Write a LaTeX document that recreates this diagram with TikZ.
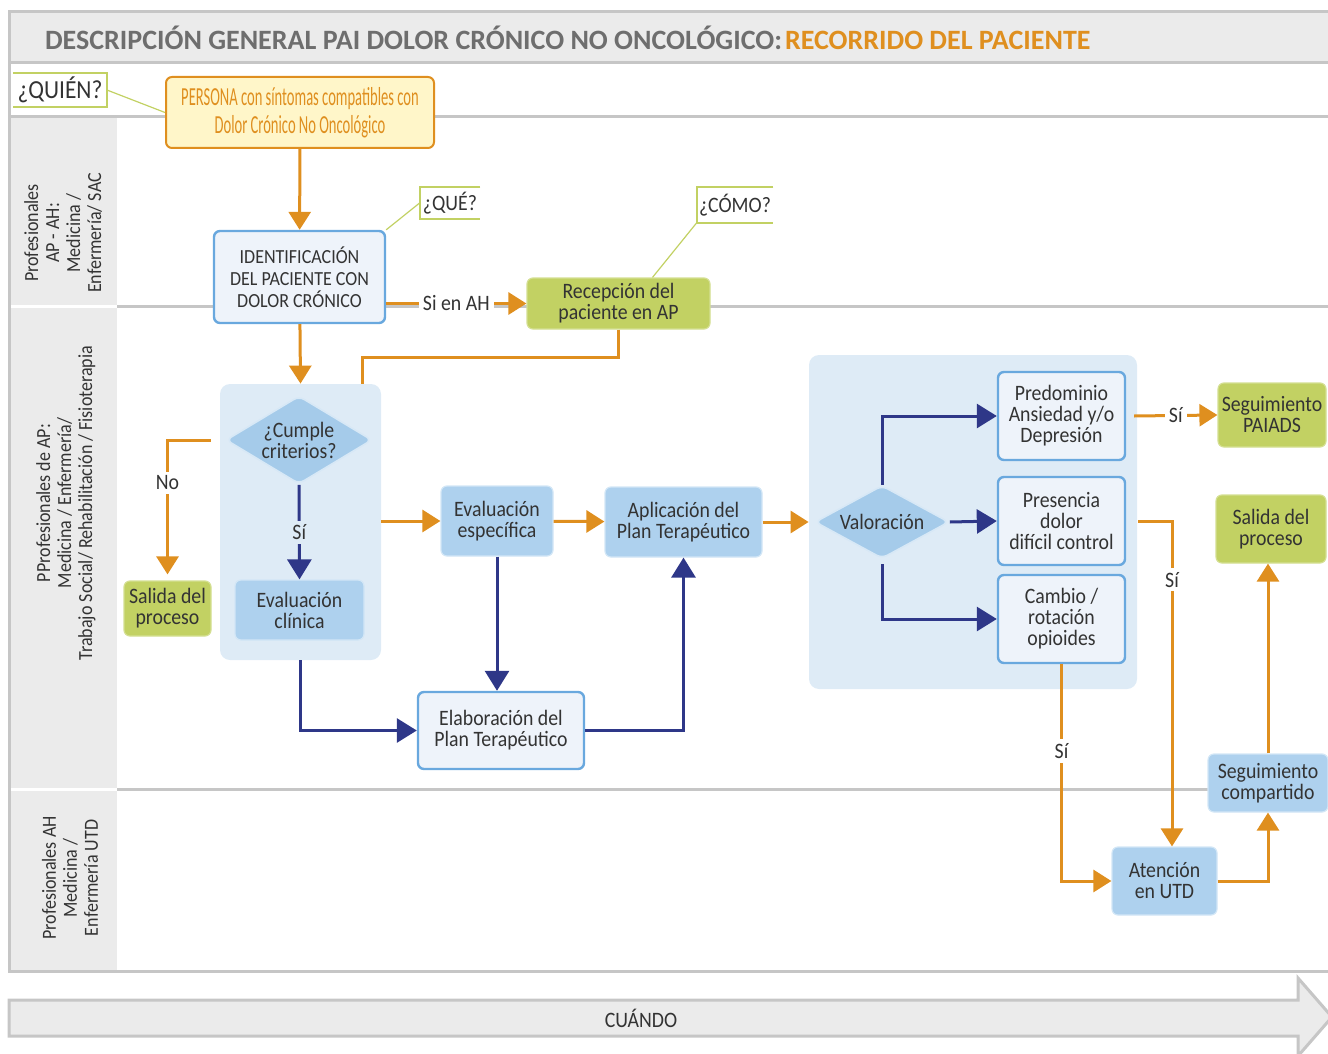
\documentclass[tikz,border=0pt]{standalone}
\usepackage{fontspec}
\setmainfont{Carlito}
\newfontfamily\boxfont{Carlito}[FakeStretch=0.9]
\newfontfamily\condfont{Carlito}[FakeStretch=0.56]
\usetikzlibrary{shapes.geometric,arrows.meta,calc}
\definecolor{amber}{HTML}{DF8F1F}
\definecolor{navy}{HTML}{2E3788}
\definecolor{leaf}{HTML}{C2D163}
\definecolor{panelblue}{HTML}{DEEBF6}
\definecolor{softblue}{HTML}{AED1EE}
\definecolor{decblue}{HTML}{A5CBEA}
\definecolor{edgeblue}{HTML}{69A8DE}
\definecolor{paleblue}{HTML}{EEF3FA}
\definecolor{cream}{HTML}{FFF6C9}
\definecolor{rule}{HTML}{C6C6C6}
\definecolor{band}{HTML}{EBEBEB}
\definecolor{ink}{HTML}{333333}
\definecolor{headgray}{HTML}{6E6E6E}
\begin{document}
\begin{tikzpicture}[x=0.5pt,y=-0.5pt,
  box/.style={rounded corners=3pt, align=center, inner sep=1pt, text=ink,
    font=\boxfont\fontsize{11}{10.5}\selectfont},
  soft/.style={box, fill=softblue, draw=softblue!55!white, line width=0.6pt},
  outl/.style={box, fill=paleblue, draw=edgeblue, line width=1.2pt},
  exitbox/.style={box, fill=leaf, draw=leaf!70!white, line width=0.6pt},
  panel/.style={fill=panelblue, rounded corners=5pt, inner sep=0pt},
  dec/.style={diamond, shape aspect=1.7, inner sep=0pt, rounded corners=3pt,
    fill=decblue, draw=decblue!45!white, line width=0.8pt, align=center,
    text=ink, font=\boxfont\fontsize{11}{10.5}\selectfont},
  tag/.style={inner sep=0pt, text=ink, font=\boxfont\fontsize{11}{11}\selectfont},
  tagline/.style={draw=leaf, line width=1pt},
  lane/.style={rotate=90, align=center, text=ink, font=\boxfont\fontsize{10}{10.5}\selectfont},
  rule line/.style={draw=rule, line width=1.5pt},
  flow/.style={draw=amber, line width=1.5pt, -{Triangle[length=9pt,width=11pt]}},
  nflow/.style={draw=navy, line width=1.5pt, -{Triangle[length=10pt,width=12pt]}},
  lbl/.style={text=ink, inner sep=2pt, font=\boxfont\fontsize{11}{10.5}\selectfont}]
\useasboundingbox (0,0) rectangle (1328,1054);

% frame and lanes
\fill[band] (9,12) rectangle (1328,63);
\fill[band] (9,117) rectangle (117,971);
\draw[rule line] (1328,12) -- (9,12) -- (9,971) -- (1328,971);
\foreach \y in {63,117}
  \draw[rule line] (9,\y) -- (1328,\y);
\foreach \y in {306,789} {
  \draw[rule line] (117,\y) -- (1328,\y);
  \draw[white, line width=1.5pt] (11,\y) -- (117,\y);
}
\node[anchor=west, text=headgray, font=\fontsize{14}{14}\selectfont\bfseries] (title) at (38,38)
  {DESCRIPCIÓN GENERAL PAI DOLOR CRÓNICO NO ONCOLÓGICO:\hspace{1.5pt}\textcolor{amber}{RECORRIDO DEL PACIENTE}};

\node[lane] (lane1) at (63,233) {Profesionales\\AP - AH:\\Medicina /\\Enfermería/ SAC};
\node[lane] (lane2) at (66,503) {PProfesionales de AP:\\Medicina / Enfermería/\\Trabajo Social/ Rehabilitación / Fisioterapia};
\node[lane] (lane3) at (70,878) {Profesionales AH\\Medicina /\\Enfermería UTD};

% panels
\node[panel, minimum width=80.5pt, minimum height=138pt] (panel1) at (300.5,522) {};
\node[panel, minimum width=164pt, minimum height=167pt] (panel2) at (973,522) {};

% nodes
\node[box, fill=cream, draw=amber, line width=1pt, text=amber, minimum width=134pt, minimum height=35.5pt,
  font=\condfont\fontsize{13}{14}\selectfont] (persona) at (300,112.5)
  {PERSONA con síntomas compatibles con\\Dolor Crónico No Oncológico};
\node[outl, minimum width=85.5pt, minimum height=46pt, font=\boxfont\fontsize{10}{11}\selectfont] (ident) at (299.5,277)
  {IDENTIFICACIÓN\\DEL PACIENTE CON\\DOLOR CRÓNICO};
\node[exitbox, minimum width=91.5pt, minimum height=25.5pt] (recep) at (618.5,303.5) {Recepción del\\paciente en AP};
\node[dec, minimum width=73pt, minimum height=44pt] (cumple) at (299,440) {¿Cumple\\criterios?};
\node[soft, minimum width=64.5pt, minimum height=30pt] (evalc) at (299.5,610) {Evaluación\\clínica};
\node[exitbox, minimum width=43.5pt, minimum height=27.5pt] (salida1) at (167.5,608.5) {Salida del\\proceso};
\node[soft, minimum width=56pt, minimum height=35pt] (evale) at (497,521) {Evaluación\\específica};
\node[soft, minimum width=78.5pt, minimum height=35pt] (aplic) at (683.5,522) {Aplicación del\\Plan Terapéutico};
\node[outl, minimum width=83pt, minimum height=38.5pt] (elab) at (501,730.5) {Elaboración del\\Plan Terapéutico};
\node[dec, minimum width=67pt, minimum height=36.5pt] (valor) at (882,522) {Valoración};
\node[outl, minimum width=63.5pt, minimum height=44pt] (predo) at (1061.5,416) {Predominio\\Ansiedad y/o\\Depresión};
\node[outl, minimum width=63.5pt, minimum height=44pt] (presen) at (1061.5,521) {Presencia\\dolor\\difícil control};
\node[outl, minimum width=63.5pt, minimum height=44pt] (cambio) at (1061.5,619) {Cambio /\\rotación\\opioides};
\node[exitbox, minimum width=54pt, minimum height=32pt] (paiads) at (1272,415) {Seguimiento\\PAIADS};
\node[exitbox, minimum width=55pt, minimum height=34pt] (salida2) at (1271,529) {Salida del\\proceso};
\node[soft, minimum width=52.5pt, minimum height=34pt] (utd) at (1164.5,881) {Atención\\en UTD};
\node[soft, minimum width=60pt, minimum height=29pt] (segcomp) at (1268,783) {Seguimiento\\compartido};

% questions
\node[tag, minimum width=46.5pt, minimum height=17pt, font=\boxfont\fontsize{13}{13}\selectfont] (quien) at (60,90) {¿QUIÉN?};
\node[tag, minimum width=30pt, minimum height=15.5pt] (que) at (450,203) {¿QUÉ?};
\node[tag, minimum width=38pt, minimum height=17.5pt] (como) at (735,205) {¿CÓMO?};
\draw[tagline] (quien.north west) -- (quien.north east) -- (quien.south east) -- (quien.south west);
\draw[tagline] (que.north east) -- (que.north west) -- (que.south west) -- (que.south east);
\draw[tagline] (como.north east) -- (como.north west) -- (como.south west) -- (como.south east);
\draw[tagline, line width=0.6pt] (quien.east) -- (persona.west);
\draw[tagline, line width=0.6pt] (ident.north east) -- (que.west);
\draw[tagline, line width=0.6pt] ([xshift=17pt]recep.north) -- (como.south west);

% connectors
\draw[flow] (persona) -- (ident);
\draw[flow] (ident) -- (panel1.north);
\draw[flow] (ident.east |- recep.west) -- node[lbl, fill=white] {Si en AH} (recep.west);
\coordinate (turn) at (362,357);
\draw[flow, -] (recep.south) |- (turn) -- (turn |- panel1.north);
\draw[flow] ([xshift=-4.5pt]panel1.west |- cumple) -| node[lbl, pos=0.66, fill=white] {No} ([yshift=3pt]salida1.north);
\draw[nflow] (cumple.south) -- node[lbl, fill=panelblue] {Sí} (evalc.north);
\draw[nflow] (panel1.south) |- (elab.west);
\draw[flow] (panel1.east |- evale.west) -- (evale.west);
\draw[flow] (evale) -- (aplic);
\draw[nflow] (evale.south) -- (evale.south |- elab.north);
\draw[nflow] (elab.east) -| (aplic.south);
\draw[flow] (aplic.east) -- (panel2.west |- aplic.east);
\draw[nflow] (valor.north) |- (predo.west);
\draw[nflow] (valor.east) -- (presen.west);
\draw[nflow] ([yshift=-2.5pt]valor.south) |- (cambio.west);
\draw[flow] ([xshift=4pt]predo.east) -- node[lbl, fill=white] {Sí} (paiads.west);
\draw[flow] ([xshift=6pt]presen.east) -| node[lbl, pos=0.59, fill=white] {Sí} ([xshift=3.75pt]utd.north);
\draw[flow] (cambio.south) |- node[lbl, pos=0.2, fill=white] {Sí} (utd.west);
\draw[flow] (utd.east) -| (segcomp.south);
\draw[flow] (segcomp.north) -- (segcomp.north |- salida2.south);

% time arrow
\draw[rule line, fill=band] (9,1000) -- (1298,1000) -- (1298,978) -- (1332,1017)
  -- (1298,1056) -- (1298,1036) -- (9,1036) -- cycle;
\node[text=ink, font=\boxfont\fontsize{11}{11}\selectfont] (when) at (641,1018) {CUÁNDO};
\end{tikzpicture}
\end{document}
